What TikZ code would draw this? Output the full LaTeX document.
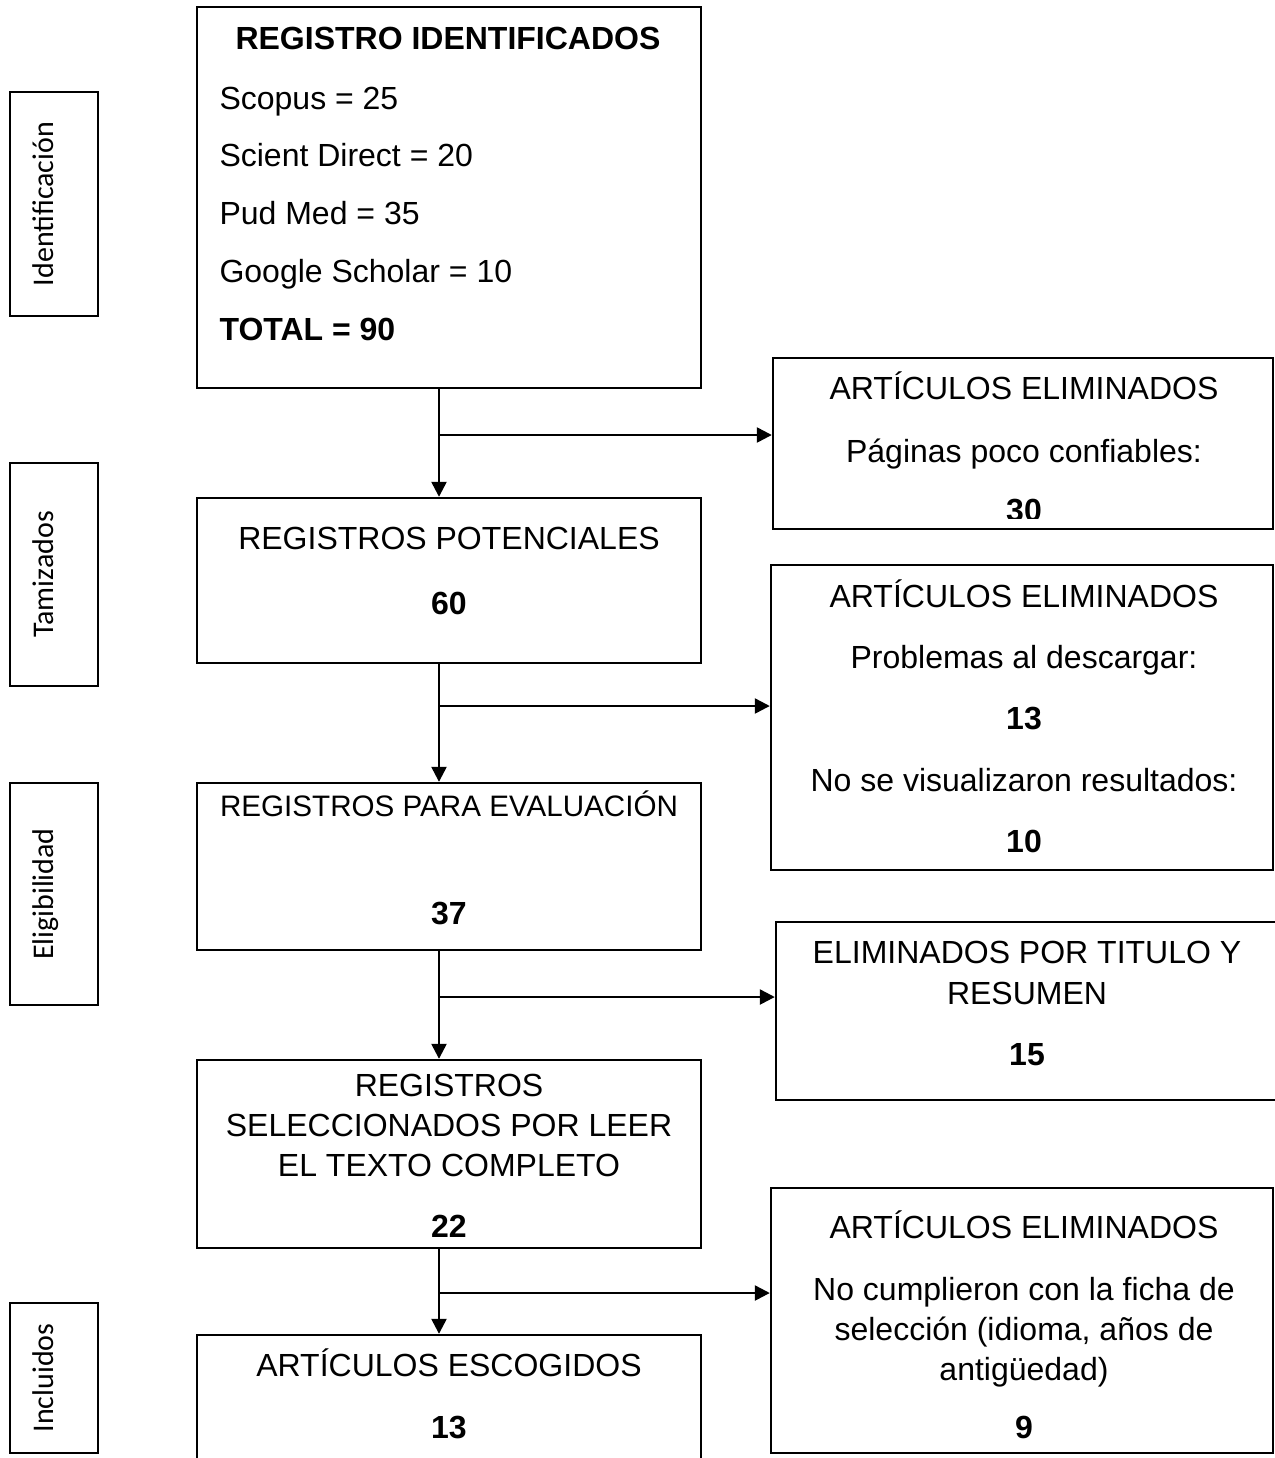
\documentclass[tikz,border=0pt]{standalone}
\usepackage{fontspec}
\setmainfont{Liberation Sans}
\newfontfamily\sidefont{Carlito}
\usetikzlibrary{arrows.meta}
\begin{document}
\begin{tikzpicture}[x=0.375pt,y=-0.375pt,
 box/.style={draw, line width=0.9pt, rectangle, inner sep=0pt},
 side/.style={draw, line width=0.9pt, rectangle, inner sep=0pt},
 sidetxt/.style={rotate=90, anchor=base, inner sep=0pt, font=\sidefont\fontsize{11.25}{13}\selectfont},
 txt/.style={anchor=base, inner sep=0pt, font=\fontsize{12}{14}\selectfont},
 btxt/.style={anchor=base, inner sep=0pt, font=\fontsize{12}{14}\selectfont\bfseries},
 arr/.style={line width=0.9pt, -{Triangle[length=5.6pt,width=5.6pt]}},
 ln/.style={line width=0.9pt}]
\useasboundingbox (0,0) rectangle (1275,1458);
\clip (0,0) rectangle (1275,1458);

% side labels
\node[side, minimum width=33pt, minimum height=84pt] (s1) at (54,204) {};
\node[side, minimum width=33pt, minimum height=83.6pt] (s2) at (54,574.5) {};
\node[side, minimum width=33pt, minimum height=83.25pt] (s3) at (54,894) {};
\node[side, minimum width=33pt, minimum height=56.25pt] (s4) at (54,1378) {};
\node[sidetxt] (l1) at (53,204) {Identificación};
\node[sidetxt] (l2) at (53,574.5) {Tamizados};
\node[sidetxt] (l3) at (53,894) {Eligibilidad};
\node[sidetxt] (l4) at (53,1378) {Incluidos};

% main boxes
\node[box, minimum width=189pt, minimum height=142.875pt] (b1) at (449,197.5) {};
\node[box, minimum width=189pt, minimum height=61.875pt] (b2) at (449,580.5) {};
\node[box, minimum width=189pt, minimum height=62.625pt] (b3) at (449,866.5) {};
\node[box, minimum width=189pt, minimum height=70.5pt] (b4) at (449,1154) {};
\node[box, minimum width=189pt, minimum height=54.375pt] (b5) at (449,1407.5) {};

% right boxes
\node[box, minimum width=187.5pt, minimum height=64.125pt] (ra) at (1023,443.5) {};
\node[box, minimum width=188.25pt, minimum height=114.375pt] (rb) at (1022,717.5) {};
\node[box, minimum width=192.75pt, minimum height=66.75pt] (rc) at (1033,1011) {};
\node[box, minimum width=188.25pt, minimum height=99.375pt] (rd) at (1022,1320.5) {};

% texts box 1
\node[btxt] (t1) at (448,49) {REGISTRO IDENTIFICADOS};
\node[txt, anchor=base west] (t2) at (219,109) {Scopus = 25};
\node[txt, anchor=base west] (t3) at (219,166) {Scient Direct = 20};
\node[txt, anchor=base west] (t4) at (219,224) {Pud Med = 35};
\node[txt, anchor=base west] (t5) at (219,282) {Google Scholar = 10};
\node[btxt, anchor=base west] (t6) at (219,340) {TOTAL = 90};

% box 2
\node[txt] (t7) at (449,549) {REGISTROS POTENCIALES};
\node[btxt] (t8) at (449,614) {60};
% box 3
\node[txt, font=\fontsize{11.1}{13}\selectfont] (t9) at (449,816) {REGISTROS PARA EVALUACIÓN};
\node[btxt] (t10) at (449,924) {37};
% box 4
\node[txt] (t11) at (449,1096) {REGISTROS};
\node[txt] (t12) at (449,1136) {SELECCIONADOS POR LEER};
\node[txt] (t13) at (449,1176) {EL TEXTO COMPLETO};
\node[btxt] (t14) at (449,1237) {22};
% box 5
\node[txt] (t15) at (449,1376) {ARTÍCULOS ESCOGIDOS};
\node[btxt] (t16) at (449,1438) {13};

% right box A
\node[txt] (u1) at (1024,399) {ARTÍCULOS ELIMINADOS};
\node[txt] (u2) at (1024,462) {Páginas poco confiables:};
\begin{scope}
\clip (773,358) rectangle (1273,518);
\node[btxt] (u3) at (1024,521) {30};
\end{scope}
% right box B
\node[txt] (u4) at (1024,607) {ARTÍCULOS ELIMINADOS};
\node[txt] (u5) at (1024,668) {Problemas al descargar:};
\node[btxt] (u6) at (1024,729) {13};
\node[txt] (u7) at (1024,791) {No se visualizaron resultados:};
\node[btxt] (u8) at (1024,852) {10};
% right box C
\node[txt] (u9) at (1027,963) {ELIMINADOS POR TITULO Y};
\node[txt] (u10) at (1027,1004) {RESUMEN};
\node[btxt] (u11) at (1027,1065) {15};
% right box D
\node[txt] (u12) at (1024,1238) {ARTÍCULOS ELIMINADOS};
\node[txt] (u13) at (1024,1300) {No cumplieron con la ficha de};
\node[txt] (u14) at (1024,1340) {selección (idioma, años de};
\node[txt] (u15) at (1024,1380) {antigüedad)};
\node[btxt] (u16) at (1024,1438) {9};

% connectors
\coordinate (ax) at (439,0);
\coordinate (j1) at (439,435);
\coordinate (j2) at (439,706);
\coordinate (j3) at (439,997);
\coordinate (j4) at (439,1293);
\draw[arr] (b1.south -| ax) -- (b2.north -| ax);
\draw[arr] (j1) -- (j1 -| ra.west);
\draw[arr] (b2.south -| ax) -- (b3.north -| ax);
\draw[arr] (j2) -- (j2 -| rb.west);
\draw[arr] (b3.south -| ax) -- (b4.north -| ax);
\draw[arr] (j3) -- (j3 -| rc.west);
\draw[arr] (b4.south -| ax) -- (b5.north -| ax);
\draw[arr] (j4) -- (j4 -| rd.west);
\end{tikzpicture}
\end{document}
